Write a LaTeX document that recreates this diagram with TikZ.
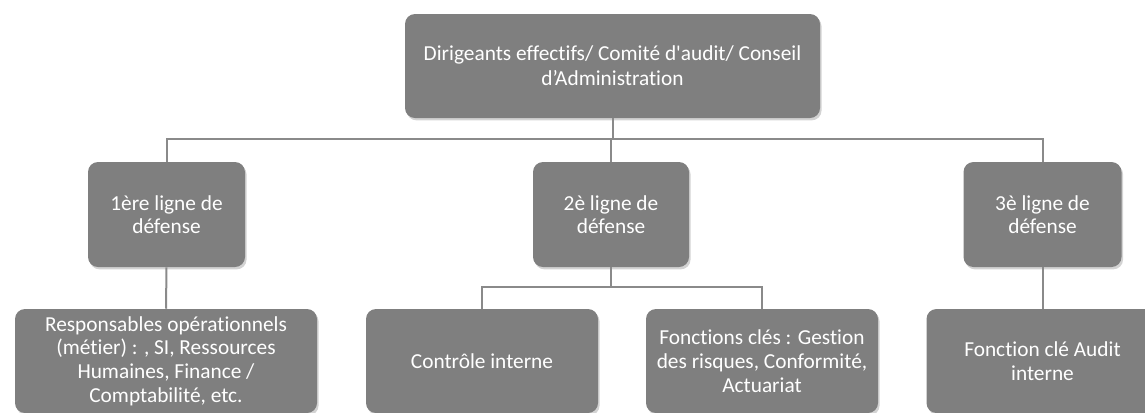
\documentclass[tikz,border=0pt]{standalone}
\usepackage{fontspec}
\setmainfont{Carlito}[Ligatures={TeXOff,CommonOff}]
\usetikzlibrary{shadows}
\definecolor{boxgray}{HTML}{7F7F7F}
\definecolor{linegray}{HTML}{8A8A8A}
\begin{document}
\begin{tikzpicture}[x=0.75pt,y=-0.75pt,
  box/.style={draw=none, fill=boxgray, rounded corners=7.5pt, text=white,
    align=center, inner sep=0pt, font=\fontsize{16}{17.75}\selectfont,
    drop shadow={opacity=0.35, shadow xshift=1.2pt, shadow yshift=-1.8pt}},
  conn/.style={draw=linegray, line width=1.5pt}]
\useasboundingbox (0,0) rectangle (1145,412);
% top
\node[box, minimum width=311.25pt, minimum height=78pt,
  font=\fontsize{16}{18.75}\selectfont] (top) at (612.5,66)
  {Dirigeants effectifs/ Comité d'audit/ Conseil\\d’Administration};
% level 2
\node[box, minimum width=117.75pt, minimum height=78.75pt] (l1) at (166.5,214.5)
  {1ère ligne de\\défense};
\node[box, minimum width=117pt, minimum height=78.75pt] (l2) at (611,214.5)
  {2è ligne de\\défense};
\node[box, minimum width=118.5pt, minimum height=78.75pt] (l3) at (1042.5,214.5)
  {3è ligne de\\défense};
% level 3
\node[box, minimum width=226.5pt, minimum height=78pt] (b1) at (166,361)
  {Responsables opérationnels\\(métier) : , SI, Ressources\\Humaines, Finance /\\Comptabilité, etc.};
\node[box, minimum width=174pt, minimum height=78pt] (b2) at (482,361)
  {Contrôle interne};
\node[box, minimum width=174pt, minimum height=78pt] (b3) at (762,361)
  {Fonctions clés : Gestion\\des risques, Conformité,\\Actuariat};
\node[box, minimum width=174pt, minimum height=78pt] (b4) at (1042.5,361)
  {Fonction clé Audit\\interne};
% connectors
\coordinate (h1) at (612.5,139);
\coordinate (h2) at (611,287);
\draw[conn] (top.south) -- (h1);
\draw[conn] (l1.north) |- (h1) -| (l3.north);
\draw[conn] (h1) -| (l2.north);
\draw[conn] (l1.south) -- (b1.north);
\draw[conn] (l2.south) -- (h2);
\draw[conn] (b2.north) |- (h2) -| (b3.north);
\draw[conn] (l3.south) -- (b4.north);
\end{tikzpicture}
\end{document}
